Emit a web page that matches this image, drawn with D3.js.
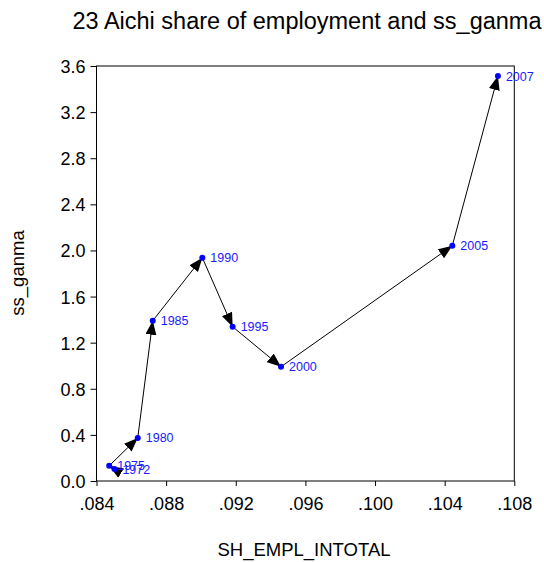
<!DOCTYPE html>
<html>
<head>
<meta charset="utf-8">
<script src="https://cdn.jsdelivr.net/npm/d3@7"></script>
<style>
  html, body { margin: 0; padding: 0; background: #fff; }
  svg { display: block; font-family: "Liberation Sans", Arial, sans-serif; }
</style>
</head>
<body>
<svg id="chart" width="544" height="562"></svg>
<script>
// Observation years, employment share (x) and ss_ganma (y)
const years   = ["1972", "1975", "1980", "1985", "1990", "1995", "2000", "2005", "2007"];
const shEmpl  = [0.08503, 0.08473, 0.08637, 0.08723, 0.09008, 0.09182, 0.09460, 0.10444, 0.10706];
const ssGanma = [0.104, 0.132, 0.374, 1.390, 1.937, 1.338, 0.991, 2.041, 3.513];

const xTicks = [0.084, 0.088, 0.092, 0.096, 0.100, 0.104, 0.108];
const yTicks = [0.0, 0.4, 0.8, 1.2, 1.6, 2.0, 2.4, 2.8, 3.2, 3.6];

const title = "23 Aichi share of employment and ss_ganma";
const xTitle = "SH_EMPL_INTOTAL";
const yTitle = "ss_ganma";

const svg = d3.select("#chart");
const plot = { left: 96.5, right: 514.3, top: 66, bottom: 481 };

const x = d3.scaleLinear().domain([0.084, 0.108]).range([plot.left, plot.right]);
const y = d3.scaleLinear().domain([0, 3.6]).range([plot.bottom, plot.top]);

// Title
svg.append("text")
  .attr("x", 307).attr("y", 29)
  .attr("text-anchor", "middle")
  .attr("font-size", 23.5)
  .attr("fill", "#000")
  .text(title);

// Axes
const xAxis = svg.append("g")
  .attr("transform", `translate(0,${plot.bottom})`)
  .call(d3.axisBottom(x).tickValues(xTicks).tickSize(5).tickPadding(16)
    .tickFormat(d => d3.format(".3f")(d).replace(/^0/, "")));
const yAxis = svg.append("g")
  .attr("transform", `translate(${plot.left},0)`)
  .call(d3.axisLeft(y).tickValues(yTicks).tickSize(6).tickPadding(5)
    .tickFormat(d3.format(".1f")));

[xAxis, yAxis].forEach(g => {
  g.select(".domain").remove();
  g.selectAll("line").attr("stroke", "#000").attr("stroke-width", 1);
  g.selectAll("text").attr("font-size", 18).attr("fill", "#000")
    .attr("font-family", "Liberation Sans, Arial, sans-serif");
});
xAxis.selectAll("text").attr("dy", "0.71em").attr("y", 16);
yAxis.selectAll("text").attr("dy", "0.36em");

// Frame
svg.append("rect")
  .attr("x", plot.left).attr("y", plot.top)
  .attr("width", plot.right - plot.left).attr("height", plot.bottom - plot.top)
  .attr("fill", "none").attr("stroke", "#000").attr("stroke-width", 1);

// Axis titles
svg.append("text")
  .attr("x", 304).attr("y", 556)
  .attr("text-anchor", "middle")
  .attr("font-size", 18.5)
  .text(xTitle);
svg.append("text")
  .attr("transform", "translate(24,273) rotate(-90)")
  .attr("text-anchor", "middle")
  .attr("font-size", 18.5)
  .text(yTitle);

// Arrowhead marker
svg.append("defs").append("marker")
  .attr("id", "arrow")
  .attr("markerUnits", "userSpaceOnUse")
  .attr("viewBox", "0 0 14 11")
  .attr("refX", 14).attr("refY", 5.5)
  .attr("markerWidth", 14).attr("markerHeight", 11)
  .attr("orient", "auto")
  .append("path")
  .attr("d", "M0,0 L14,5.5 L0,11 Z")
  .attr("fill", "#000");

const pts = years.map((yr, i) => ({ yr, x: shEmpl[i], y: ssGanma[i] }));

// Path segments from each year to the next, with arrowheads
svg.append("g").selectAll("line")
  .data(d3.pairs(pts))
  .join("line")
  .attr("x1", d => x(d[0].x)).attr("y1", d => y(d[0].y))
  .attr("x2", d => x(d[1].x)).attr("y2", d => y(d[1].y))
  .attr("stroke", "#000").attr("stroke-width", 1)
  .attr("marker-end", "url(#arrow)");

// Points
svg.append("g").selectAll("circle")
  .data(pts)
  .join("circle")
  .attr("cx", d => x(d.x)).attr("cy", d => y(d.y))
  .attr("r", 3)
  .attr("fill", "#0000ff");

// Year labels
svg.append("g").selectAll("text")
  .data(pts)
  .join("text")
  .attr("x", d => x(d.x) + 8)
  .attr("y", d => y(d.y))
  .attr("dy", "0.36em")
  .attr("font-size", 12.5)
  .attr("fill", "#1a1aff")
  .text(d => d.yr);
</script>
</body>
</html>
